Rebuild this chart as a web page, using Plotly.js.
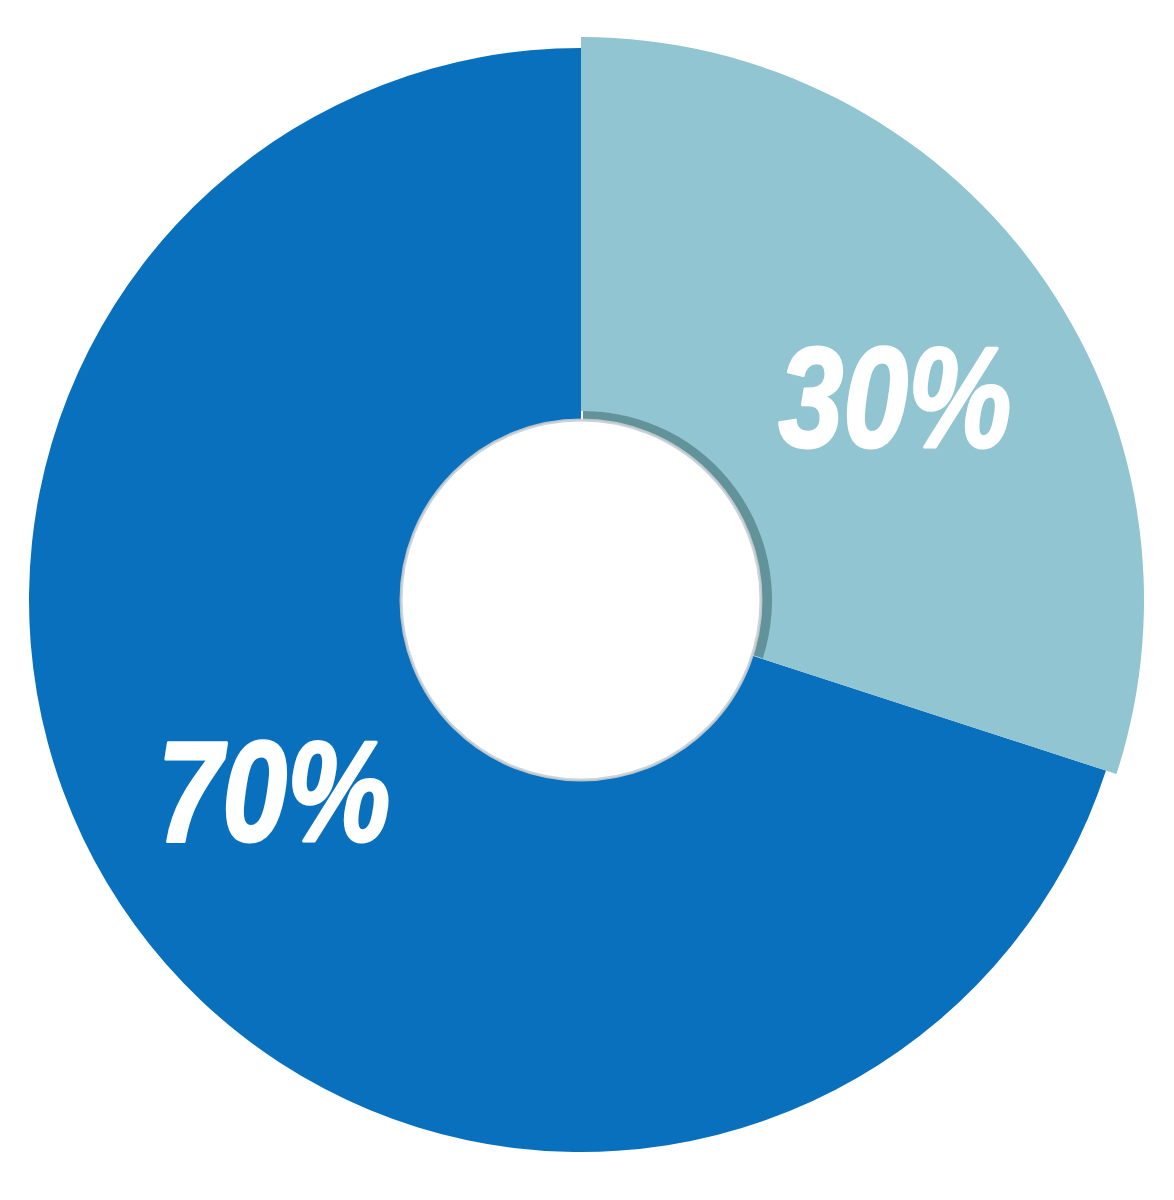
<!DOCTYPE html>
<html>
<head>
<meta charset="utf-8">
<script src="https://cdn.plot.ly/plotly-3.0.1.min.js"></script>
<style>html,body{margin:0;padding:0;background:#fff;}#chart{width:1174px;height:1200px;}</style>
</head>
<body>
<div id="chart"></div>
<script>
// Data
const categories = ['Share A', 'Share B'];
const values = [30, 70];
const sliceColors = ['#90c5d1', '#0870bd'];
const shadowColor = '#62929a';
const labelText = values.map(v => v + '%');

const W = 1174, H = 1200;
function domainFor(cx, cy, r) {
  return {
    x: [(cx - r) / W, (cx + r) / W],
    y: [1 - (cy + r) / H, 1 - (cy - r) / H]
  };
}
const cx = 581, cy = 600;
const clear = 'rgba(0,0,0,0)';

const common = {
  type: 'pie',
  labels: categories,
  values: values,
  sort: false,
  direction: 'clockwise',
  rotation: 0,
  textinfo: 'none',
  hoverinfo: 'skip',
  showlegend: false
};

const darkTrace = Object.assign({}, common, {
  domain: domainFor(cx, cy, 552),
  hole: 180 / 552,
  marker: {colors: [clear, sliceColors[1]], line: {width: 0}}
});
const lightTrace = Object.assign({}, common, {
  domain: domainFor(cx, cy, 563),
  hole: 189 / 563,
  marker: {colors: [sliceColors[0], clear], line: {width: 0}}
});
const shadowTrace = Object.assign({}, common, {
  domain: domainFor(cx + 2, cy, 189),
  hole: 178 / 189,
  marker: {colors: [shadowColor, clear], line: {width: 0}}
});

const labelFont = {
  family: '"Liberation Sans", Arial, sans-serif',
  size: 142, color: '#ffffff', weight: 'bold', style: 'italic'
};

const layout = {
  width: W, height: H,
  margin: {l: 0, r: 0, t: 0, b: 0},
  paper_bgcolor: '#ffffff',
  showlegend: false,
  shapes: [{
    type: 'circle', xref: 'paper', yref: 'paper',
    x0: (cx - 180) / W, x1: (cx + 180) / W,
    y0: 1 - (cy + 180) / H, y1: 1 - (cy - 180) / H,
    line: {color: 'rgba(200,206,210,0.9)', width: 3},
    fillcolor: '#ffffff', layer: 'above'
  }],
  annotations: [
    {text: labelText[0], x: 895 / W, y: 1 - 397 / H, xref: 'paper', yref: 'paper',
     showarrow: false, xanchor: 'center', yanchor: 'middle', font: labelFont},
    {text: labelText[1], x: 274 / W, y: 1 - 791 / H, xref: 'paper', yref: 'paper',
     showarrow: false, xanchor: 'center', yanchor: 'middle', font: labelFont}
  ]
};

Plotly.newPlot('chart', [darkTrace, lightTrace, shadowTrace], layout, {displayModeBar: false, staticPlot: true})
  .then(function (gd) {
    // condense the label glyphs horizontally and embolden them to mimic a black narrow typeface
    gd.querySelectorAll('text.annotation-text').forEach(function (t) {
      const b = t.getBBox();
      const c = b.x + b.width / 2;
      t.setAttribute('transform', 'translate(' + c + ',0) scale(0.82,1) translate(' + (-c) + ',0)');
      t.style.stroke = '#ffffff';
      t.style.strokeWidth = '3px';
      t.style.strokeLinejoin = 'round';
    });
  });
</script>
</body>
</html>
